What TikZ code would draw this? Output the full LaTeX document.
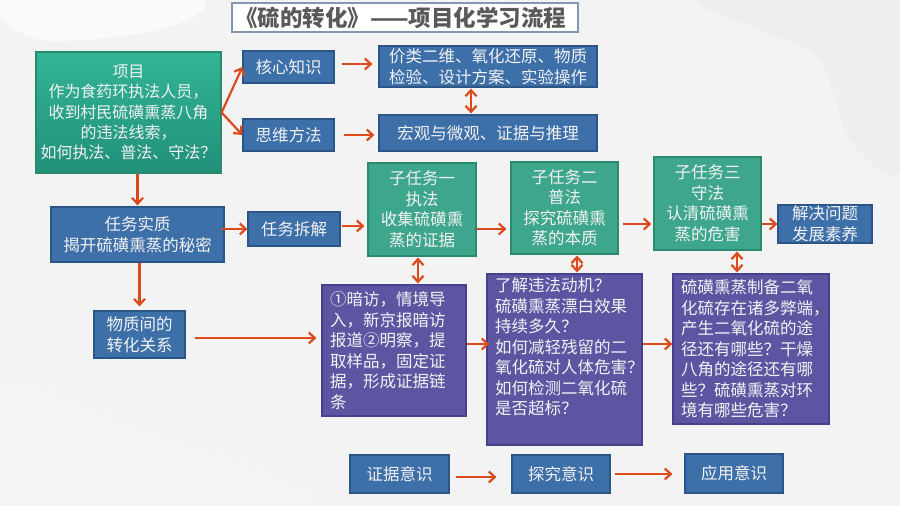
\documentclass[tikz,border=0pt]{standalone}
\usepackage{fontspec}
\newfontfamily\cjk{Noto Sans CJK SC}
\usetikzlibrary{arrows.meta,calc}
\definecolor{blueboxc}{HTML}{3D6FA8}
\definecolor{blueedge}{HTML}{2B5586}
\definecolor{greenboxc}{HTML}{3DA68C}
\definecolor{greenedge}{HTML}{2A8A70}
\definecolor{greentop}{HTML}{33B596}
\definecolor{greenbot}{HTML}{21907A}
\definecolor{purpleboxc}{HTML}{5C56A2}
\definecolor{purpleedge}{HTML}{46418A}
\definecolor{arrowc}{HTML}{DC4A1C}
\definecolor{txt}{HTML}{F2F2F2}
\definecolor{bgc}{HTML}{F3F3F3}
\definecolor{titleedge}{HTML}{8497B0}
\definecolor{titletxt}{HTML}{595959}
\begin{document}
\begin{tikzpicture}[x=1pt,y=-1pt,
  base/.style={draw, line width=1.2pt, text=txt, inner sep=0pt,
    font=\cjk\fontsize{16.5}{20.5}\selectfont, align=center},
  bluebox/.style={base, fill=blueboxc, draw=blueedge},
  greenbox/.style={base, fill=greenboxc, draw=greenedge},
  purplebox/.style={base, fill=purpleboxc, draw=purpleedge, align=left, inner xsep=8pt},
  arr/.style={draw=arrowc, line width=2.2pt, -{Straight Barb[length=6pt,width=11pt]}},
  darr/.style={draw=arrowc, line width=2.2pt, {Straight Barb[length=6pt,width=11pt]}-{Straight Barb[length=6pt,width=11pt]}}
]
\useasboundingbox (0,0) rectangle (900,506);
\fill[bgc] (0,0) rectangle (900,506);
% faint marble texture
\fill[gray!14, opacity=0.7] plot[smooth cycle] coordinates {(700,0) (900,0) (900,170) (850,140) (820,60) (760,30)};
\fill[gray!10, opacity=0.7] plot[smooth cycle] coordinates {(840,250) (900,220) (900,420) (860,380) (830,320)};
\fill[gray!8, opacity=0.7] plot[smooth cycle] coordinates {(0,380) (120,420) (260,470) (300,506) (0,506)};
\fill[white, opacity=0.6] plot[smooth cycle] coordinates {(0,0) (200,0) (160,30) (40,40)};

% title
\node[draw=titleedge, line width=2pt, fill=white, minimum width=346pt, minimum height=29pt,
  inner sep=0pt, text width=340pt, align=left, text=titletxt,
  font=\cjk\bfseries\fontsize{22.5}{24}\selectfont] (title) at (405,17.5) {《硫的转化》——项目化学习流程};

% project box
\node[base, draw=greenedge, top color=greentop, bottom color=greenbot, minimum width=185pt, minimum height=121pt,
  font=\cjk\fontsize{16}{20.3}\selectfont] (proj) at (128.5,112.5)
  {项目\\作为食药环执法人员，\\收到村民硫磺熏蒸八角\\的违法线索，\\如何执法、普法、守法？};

\node[bluebox, minimum width=91pt, minimum height=32pt] (core) at (288.5,67) {核心知识};
\node[bluebox, minimum width=91pt, minimum height=32pt] (think) at (288.5,135) {思维方法};
\node[bluebox, minimum width=218pt, minimum height=41pt] (jia) at (488,66.5) {价类二维、氧化还原、物质\\检验、设计方案、实验操作};
\node[bluebox, minimum width=218pt, minimum height=36pt] (hong) at (488,133) {宏观与微观、证据与推理};

\node[bluebox, minimum width=173pt, minimum height=55pt] (essence) at (137.5,234.5) {任务实质\\揭开硫磺熏蒸的秘密};
\node[bluebox, minimum width=92pt, minimum height=34pt] (split) at (294,229) {任务拆解};

\node[greenbox, minimum width=108pt, minimum height=93pt] (sub1) at (422,209.5) {子任务一\\执法\\收集硫磺熏\\蒸的证据};
\node[greenbox, minimum width=107pt, minimum height=92pt] (sub2) at (564.5,208) {子任务二\\普法\\探究硫磺熏\\蒸的本质};
\node[greenbox, minimum width=107pt, minimum height=93pt] (sub3) at (707.5,203.5) {子任务三\\守法\\认清硫磺熏\\蒸的危害};
\node[bluebox, minimum width=94pt, minimum height=38pt] (solve) at (825,224) {解决问题\\发展素养};

\node[bluebox, minimum width=91pt, minimum height=47pt] (wz) at (139.5,334.5) {物质间的\\转化关系};

\node[purplebox, minimum width=144pt, minimum height=131pt, text width=128pt] (p1) at (394,350.5)
  {①暗访，情境导\\入，新京报暗访\\报道②明察，提\\取样品，固定证\\据，形成证据链\\条};
\node[purplebox, minimum width=155pt, minimum height=171pt, text width=139pt] (p2) at (564.5,359.5)
  {了解违法动机？\\硫磺熏蒸漂白效果\\持续多久？\\如何减轻残留的二\\氧化硫对人体危害？\\如何检测二氧化硫\\是否超标？\\[6pt]\mbox{}};
\node[purplebox, minimum width=156pt, minimum height=150pt, text width=140pt] (p3) at (751,349)
  {硫磺熏蒸制备二氧\\化硫存在诸多弊端，\\产生二氧化硫的途\\径还有哪些？干燥\\八角的途径还有哪\\些？硫磺熏蒸对环\\境有哪些危害？};

\node[bluebox, minimum width=99pt, minimum height=38pt] (zj) at (399.5,474) {证据意识};
\node[bluebox, minimum width=98pt, minimum height=38pt] (tj) at (561,474) {探究意识};
\node[bluebox, minimum width=98pt, minimum height=39pt] (yy) at (734,473.5) {应用意识};

% connectors
\draw[arr] (proj.east) -- (core.west);
\draw[arr] (proj.east) -- (think.west);
\draw[arr, shorten <=7pt, shorten >=6pt] ([yshift=3pt]core.east) -- ([yshift=3pt]core.east -| jia.west);
\draw[arr, shorten <=9pt, shorten >=4pt] (think.east) -- (think.east -| hong.west);
\draw[darr, shorten <=1pt, shorten >=1pt] ([xshift=-17pt]jia.south) -- ([xshift=-17pt]jia.south |- hong.north);

\draw[arr, shorten >=1pt] (proj.south -| essence.north) -- (essence.north);
\draw[arr, shorten <=-3pt] (essence.east |- split.west) -- (split.west);
\draw[arr, shorten <=1pt, shorten >=3pt] ([yshift=3pt]split.east) -- ([yshift=3pt]split.east -| sub1.west);
\draw[arr, shorten >=4pt] (sub1.east |- split.east) -- (sub2.west |- split.east);
\draw[arr, shorten <=4pt, shorten >=2pt] (sub2.east |- solve.west) -- (sub3.west |- solve.west);
\draw[arr] (sub3.east |- solve.west) -- (solve.west);

\draw[arr, shorten >=4pt] (essence.south -| wz.north) -- (wz.north);
\draw[arr, shorten <=9pt, shorten >=5pt] ([yshift=-3.5pt]wz.east) -- ([yshift=-3.5pt]wz.east -| p1.west);
\draw[arr, shorten >=-3pt] ([yshift=6.5pt]p1.east) -- ([yshift=6.5pt]p1.east -| p2.west);
\draw[arr] ([yshift=6.5pt]p1.east -| p2.east) -- ([yshift=6.5pt]p1.east -| p3.west);

\draw[darr, shorten <=1pt, shorten >=1pt] ([xshift=-4pt]sub1.south) -- ([xshift=-4pt]sub1.south |- p1.north);
\draw[darr, shorten <=1pt, shorten >=1pt] ([xshift=12.5pt]sub2.south) -- ([xshift=12.5pt]sub2.south |- p2.north);
\draw[darr, shorten <=1pt, shorten >=1pt] ([xshift=29.5pt]sub3.south) -- ([xshift=29.5pt]sub3.south |- p3.north);

\draw[arr, shorten <=6pt, shorten >=15pt] ([yshift=-3pt]zj.east) -- ([yshift=-3pt]zj.east -| tj.west);
\draw[arr, shorten <=4pt, shorten >=12pt] (tj.east) -- (tj.east -| yy.west);
\end{tikzpicture}
\end{document}
